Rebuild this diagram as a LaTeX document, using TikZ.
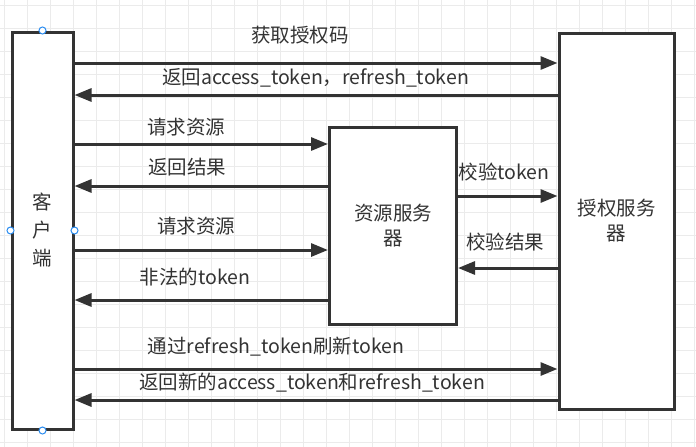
\documentclass[tikz,border=0pt]{standalone}
\usepackage{fontspec}
\setmainfont{Noto Sans CJK SC}
\usetikzlibrary{arrows.meta, positioning}

\definecolor{inkgray}{HTML}{333333}
\definecolor{gridgray}{HTML}{EBEBEB}
\definecolor{handleblue}{HTML}{2A8CF0}

\begin{document}
\begin{tikzpicture}[
        x=1pt, y=-1pt,
        % Box styles
        party/.style={
            rectangle, draw=inkgray, fill=white, line width=3pt,
            inner sep=0pt, align=center, text=inkgray,
            font=\fontsize{19.5}{25}\selectfont,
        },
        % Message arrows
        msg/.style={
            draw=inkgray, line width=3pt,
            -{Triangle[length=17pt, width=13pt]},
        },
        msg label/.style={
            text=inkgray, inner sep=0pt,
            font=\fontsize{19.5}{23}\selectfont,
        },
        gridline/.style={draw=gridgray, line width=1pt},
        handle/.style={circle, draw=handleblue, fill=white, line width=1pt,
            minimum size=7pt, inner sep=0pt},
    ]
    \useasboundingbox (0,0) rectangle (696,447);

    % --- background grid ---
    \foreach \gx in {4,27,...,694} {
        \draw[gridline] (\gx,0) -- (\gx,447);
    }
    \foreach \gy in {5,28,...,442} {
        \draw[gridline] (0,\gy) -- (696,\gy);
    }

    % --- the three parties ---
    \node[party, minimum width=61pt, minimum height=397pt,
          font=\fontsize{19.5}{28}\selectfont] (client) at (42.5,230.5) {客\\户\\端};
    \node[party, minimum width=127pt, minimum height=197pt] (resource) at (393,225.5) {资源服务\\器};
    \node[party, minimum width=115pt, minimum height=376pt] (auth) at (616.5,221) {授权服务\\器};

    % --- messages ---
    \draw[msg] (client.east |- 0,63) -- (auth.west |- 0,63);
    \node[msg label] (getcode) at (300,35) {获取授权码};

    \draw[msg] (auth.west |- 0,95) -- (client.east |- 0,95);
    \node[msg label] (gettoken) at (315.5,78) {返回access\_token，refresh\_token};

    \draw[msg] (client.east |- 0,144) -- (resource.west |- 0,144);
    \node[msg label] (askres1) at (186,127) {请求资源};

    \draw[msg] (resource.west |- 0,186) -- (client.east |- 0,186);
    \node[msg label] (result) at (187,167) {返回结果};

    \draw[msg] (resource.east |- 0,196) -- (auth.west |- 0,196);
    \node[msg label] (check) at (504,172) {校验token};

    \draw[msg] (auth.west |- 0,268) -- (resource.east |- 0,268);
    \node[msg label] (checkres) at (505,242) {校验结果};

    \draw[msg] (client.east |- 0,250) -- (resource.west |- 0,250);
    \node[msg label] (askres2) at (196,226) {请求资源};

    \draw[msg] (resource.west |- 0,300) -- (client.east |- 0,300);
    \node[msg label] (badtoken) at (195,277) {非法的token};

    \draw[msg] (client.east |- 0,369) -- (auth.west |- 0,369);
    \node[msg label] (refresh) at (276,347) {通过refresh\_token刷新token};

    \draw[msg] (auth.west |- 0,400) -- (client.east |- 0,400);
    \node[msg label] (newtoken) at (312,383) {返回新的access\_token和refresh\_token};

    % --- selection handles on the client box ---
    \foreach \side in {north, south, east, west} {
        \node[handle] at (client.\side) {};
    }
\end{tikzpicture}
\end{document}
